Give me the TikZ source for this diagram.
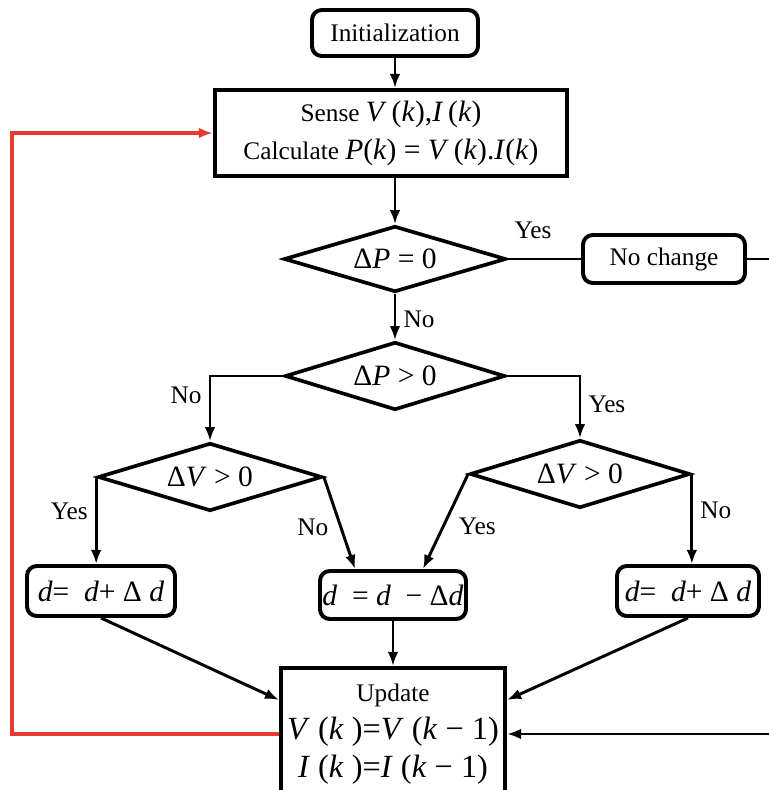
\documentclass[tikz,border=0pt]{standalone}
\usepackage{fontspec}
\setmainfont{Liberation Serif}
\usetikzlibrary{shapes.geometric, arrows.meta}
\definecolor{loopred}{RGB}{232,58,50}
\newcommand{\iv}[1]{\textit{#1}}

\begin{document}
\begin{tikzpicture}[>={Latex[length=10pt,width=7.5pt]}, x=0.025cm, y=-0.025cm,
  font=\fontsize{18}{27}\selectfont,
  rbox/.style={draw, line width=2.8pt, rounded corners=7pt, inner sep=0pt},
  sbox/.style={draw, line width=2.8pt, inner sep=0pt, align=center},
  dec/.style={draw, diamond, aspect=3.3, line width=2.6pt, inner sep=0pt},
  line/.style={line width=2.1pt},
  lbl/.style={inner sep=2pt}]
\clip (0,0) rectangle (769,790);

\node[rbox, minimum width=4.15cm, minimum height=1.15cm] (init) at (395,33) {Initialization};
\node[sbox, minimum width=8.8cm, minimum height=2.15cm] (sense) at (391,133)
  {Sense {\fontsize{21}{27}\selectfont\iv{V}\,(\iv{k}),\iv{I}\,(\iv{k})}\\
   Calculate {\fontsize{21}{27}\selectfont\iv{P}(\iv{k}) = \iv{V}\,(\iv{k}).\iv{I}(\iv{k})}};
\node[dec, minimum width=5.55cm, minimum height=1.65cm] (dp0) at (395,259)
  {{\fontsize{21}{27}\selectfont Δ\iv{P} = 0}};
\node[rbox, minimum width=4.05cm, minimum height=1.2cm] (nochg) at (664,259) {No change};
\node[dec, minimum width=5.5cm, minimum height=1.7cm] (dpp) at (395,376)
  {{\fontsize{21}{27}\selectfont Δ\iv{P} > 0}};
\node[dec, minimum width=5.6cm, minimum height=1.7cm] (dvl) at (210,477)
  {{\fontsize{21}{27}\selectfont Δ\iv{V} > 0}};
\node[dec, minimum width=5.5cm, minimum height=1.7cm] (dvr) at (580,474)
  {{\fontsize{21}{27}\selectfont Δ\iv{V} > 0}};
\node[rbox, minimum width=3.7cm, minimum height=1.25cm] (bl) at (101,591)
  {{\fontsize{21}{27}\selectfont\iv{d}=\ \ \iv{d}+ Δ \iv{d}}};
\node[rbox, minimum width=3.65cm, minimum height=1.2cm] (bm) at (393,595)
  {{\fontsize{21}{27}\selectfont\iv{d}\ \ = \iv{d}\ \ − Δ\iv{d}}};
\node[rbox, minimum width=3.55cm, minimum height=1.25cm] (br) at (688,591)
  {{\fontsize{21}{27}\selectfont\iv{d}=\ \ \iv{d}+ Δ \iv{d}}};
\node[sbox, minimum width=5.6cm, minimum height=3.3cm] (upd) at (393,734)
  {Update\\ {\fontsize{23}{30}\selectfont\iv{V} (\iv{k} )=\iv{V} (\iv{k} − 1)}\\
   {\fontsize{23}{30}\selectfont\iv{I} (\iv{k} )=\iv{I} (\iv{k} − 1)}};

% main flow
\draw[line,->] (init.south) -- (init.south |- sense.north);
\draw[line,->] (dp0.north |- sense.south) -- (dp0.north);
\draw[line] (dp0.east) -- (nochg.west);
\node[lbl] (yes0) at (533,230) {Yes};
\draw[line] (nochg.east) -- ++(60,0) coordinate (back);
\draw[line,->] (back) |- (upd.east);
\draw[line,->] (dp0.south) -- node[lbl, right=3pt, pos=0.55]{No} (dpp.north);

% branches
\draw[line,->] (dpp.west) -| node[lbl, pos=0.65, left=3pt]{No} (dvl.north);
\draw[line,->] (dpp.east) -| node[lbl, pos=0.73, right=3pt]{Yes} (dvr.north);
\draw[line,->] (dvl.west) -- node[lbl, pos=0.4, left=3pt]{Yes} (dvl.west |- bl.north);
\draw[line,->] (dvl.east) -- node[lbl, pos=0.55, left=6pt]{No} ([xshift=-0.95cm]bm.north);
\draw[line,->] (dvr.west) -- node[lbl, pos=0.55, right=8pt]{Yes} ([xshift=0.75cm]bm.north);
\draw[line,->] (dvr.east) -- node[lbl, pos=0.4, right=3pt]{No} (dvr.east |- br.north);

% to update
\draw[line,->] (bl.south) -- ([yshift=0.85cm]upd.west);
\draw[line,->] (bm.south) -- (upd.north);
\draw[line,->] (br.south) -- ([yshift=0.85cm]upd.east);

% loop back
\coordinate (loop) at (12,400);
\draw[loopred, line width=2.8pt, ->] (upd.west) -| (loop) |- (sense.west);
\end{tikzpicture}
\end{document}
